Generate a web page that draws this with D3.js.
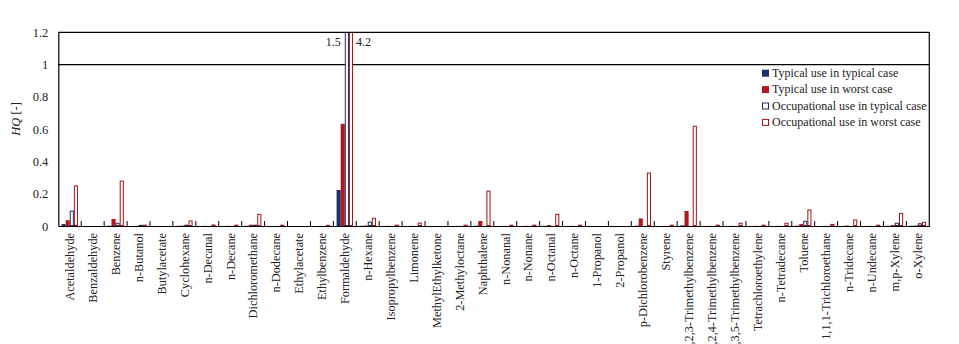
<!DOCTYPE html>
<html>
<head>
<meta charset="utf-8">
<script src="https://cdn.jsdelivr.net/npm/d3@7"></script>
<style>
  html, body { margin: 0; padding: 0; background: #fff; }
  svg { display: block; font-family: "Liberation Serif", "Times New Roman", serif; }
</style>
</head>
<body>
<svg id="chart" width="959" height="344"></svg>
<script>
const categories = ["Acetaldehyde","Benzaldehyde","Benzene","n-Butanol","Butylacetate","Cyclohexane","n-Decanal","n-Decane","Dichloromethane","n-Dodecane","Ethylacetate","Ethylbenzene","Formaldehyde","n-Hexane","Isopropylbenzene","Limonene","MethylEthylketone","2-Methyloctane","Naphthalene","n-Nonanal","n-Nonane","n-Octanal","n-Octane","1-Propanol","2-Propanol","p-Dichlorobenzene","Styrene","1,2,3-Trimethylbenzene","1,2,4-Trimethylbenzene","1,3,5-Trimethylbenzene","Tetrachloroethylene","n-Tetradecane","Toluene","1,1,1-Trichloroethane","n-Tridecane","n-Undecane","m,p-Xylene","o-Xylene"];

const seriesNames = ["Typical use in typical case","Typical use in worst case","Occupational use in typical case","Occupational use in worst case"];

const typicalTypical = [0.012,0,0.002,0,0,0.001,0,0,0.001,0,0,0,0.223,0.001,0,0,0,0,0.002,0,0,0.001,0,0,0,0.002,0,0.004,0,0,0,0,0.002,0,0,0,0.001,0.002];
const typicalWorst = [0.036,0,0.043,0.001,0,0.003,0.001,0.001,0.008,0,0,0.001,0.633,0.003,0.001,0.001,0,0.001,0.031,0.001,0.001,0.006,0.001,0,0,0.047,0.001,0.093,0.001,0.001,0.001,0.001,0.012,0.001,0.003,0.001,0.006,0.003];
const occTypical = [0.092,0,0.017,0.004,0,0.005,0.002,0.002,0.005,0.002,0,0.003,1.5,0.024,0.002,0.002,0,0.002,0.002,0.003,0.002,0.003,0.002,0,0,0.003,0.002,0.003,0.002,0.002,0.002,0.002,0.029,0.002,0.003,0.002,0.017,0.014];
const occWorst = [0.248,0,0.278,0.005,0,0.031,0.006,0.005,0.072,0.005,0,0.004,4.2,0.048,0.005,0.018,0,0.005,0.216,0.005,0.005,0.072,0.005,0,0,0.328,0.005,0.618,0.005,0.017,0.005,0.017,0.099,0.01,0.037,0.005,0.078,0.023];

const yTicks = [0, 0.2, 0.4, 0.6, 0.8, 1, 1.2];
const refLine = 1;

const seriesValues = [typicalTypical, typicalWorst, occTypical, occWorst];
const seriesStyle = [
  {fill: "#1b2f66", stroke: "none"},
  {fill: "#b4161b", stroke: "none"},
  {fill: "#ffffff", stroke: "#1b2f66"},
  {fill: "#ffffff", stroke: "#a31515"}
];

const svg = d3.select("#chart");
const pLeft = 58.3, pRight = 929.3, pTop = 32.3, pBottom = 226;

const x0 = d3.scaleBand().domain(categories).range([pLeft, pRight]).paddingInner(0).paddingOuter(0);
const x1 = d3.scaleBand().domain(seriesNames).range([0, x0.bandwidth()]).paddingInner(0).paddingOuter(0.79);
const y = d3.scaleLinear().domain([0, 1.2]).range([pBottom, pTop]);

svg.append("defs").append("clipPath").attr("id", "plotClip")
  .append("rect").attr("x", pLeft).attr("y", pTop).attr("width", pRight - pLeft).attr("height", pBottom - pTop);

// reference line at 1
svg.append("line").attr("x1", pLeft).attr("x2", pRight)
  .attr("y1", y(refLine)).attr("y2", y(refLine))
  .attr("stroke", "#000").attr("stroke-width", 1.2);

// bars
const barsG = svg.append("g").attr("clip-path", "url(#plotClip)");
seriesNames.forEach((s, si) => {
  const st = seriesStyle[si];
  const isOutline = st.stroke !== "none";
  barsG.append("g").selectAll("rect")
    .data(categories.map((c, i) => ({c, v: seriesValues[si][i]})).filter(d => d.v > 0))
    .join("rect")
    .attr("x", d => x0(d.c) + x1(s) + (isOutline ? 0.5 : 0))
    .attr("width", x1.bandwidth() - (isOutline ? 1 : 0))
    .attr("y", d => y(d.v))
    .attr("height", d => Math.max(0, pBottom - y(d.v) - (isOutline ? 0.5 : 0)))
    .attr("fill", st.fill)
    .attr("stroke", isOutline ? st.stroke : null)
    .attr("stroke-width", isOutline ? 1 : null);
});

// value labels for clipped Formaldehyde bars
const fIdx = categories.indexOf("Formaldehyde");
svg.append("text")
  .attr("x", x0("Formaldehyde") + x1(seriesNames[2]) - 4)
  .attr("y", 46).attr("text-anchor", "end")
  .attr("font-size", 12).attr("fill", "#222")
  .text(String(occTypical[fIdx]));
svg.append("text")
  .attr("x", x0("Formaldehyde") + x1(seriesNames[3]) + x1.bandwidth() + 3)
  .attr("y", 46).attr("text-anchor", "start")
  .attr("font-size", 12).attr("fill", "#222")
  .text(String(occWorst[fIdx]));

// plot frame: top, right
svg.append("line").attr("x1", pLeft).attr("x2", pRight).attr("y1", pTop).attr("y2", pTop).attr("stroke", "#000").attr("stroke-width", 1.2);
svg.append("line").attr("x1", pRight).attr("x2", pRight).attr("y1", pTop).attr("y2", pBottom).attr("stroke", "#000").attr("stroke-width", 1.2);

// y axis
const yAxis = svg.append("g").attr("transform", `translate(${pLeft},0)`)
  .call(d3.axisLeft(y).tickValues(yTicks).tickSize(0).tickPadding(10).tickFormat(d3.format("~g")));
yAxis.select(".domain").attr("stroke", "#000").attr("stroke-width", 1.2);
yAxis.selectAll("text").attr("font-size", 12.5).attr("fill", "#222").attr("font-family", "Liberation Serif, Times New Roman, serif");

// x axis
const xAxis = svg.append("g").attr("transform", `translate(0,${pBottom})`)
  .call(d3.axisBottom(x0).tickSize(0).tickPadding(0));
xAxis.select(".domain").attr("stroke", "#000").attr("stroke-width", 1.2);
xAxis.selectAll(".tick text")
  .attr("font-size", 12.3).attr("fill", "#222")
  .attr("font-family", "Liberation Serif, Times New Roman, serif")
  .attr("text-anchor", "end")
  .attr("transform", "translate(0,7) rotate(-90)")
  .attr("x", 0).attr("y", 0).attr("dy", "0.35em");

// boundary tick marks (inside, pointing up)
const boundaries = categories.slice(1).map(c => x0(c));
svg.append("g").selectAll("line").data(boundaries).join("line")
  .attr("x1", d => d).attr("x2", d => d)
  .attr("y1", pBottom).attr("y2", pBottom - 5)
  .attr("stroke", "#000").attr("stroke-width", 1);

// y axis title
const yt = svg.append("text")
  .attr("transform", `translate(20,119) rotate(-90)`)
  .attr("text-anchor", "middle").attr("font-size", 12.5).attr("fill", "#222");
yt.append("tspan").attr("font-style", "italic").text("HQ");
yt.append("tspan").text(" [-]");

// legend
const legend = svg.append("g").attr("transform", "translate(762,72.7)");
seriesNames.forEach((s, i) => {
  const g = legend.append("g").attr("transform", `translate(0,${i * 16.4})`);
  const st = seriesStyle[i];
  const isOutline = st.stroke !== "none";
  g.append("rect")
    .attr("x", isOutline ? 0.5 : 0).attr("y", isOutline ? -2.5 : -3)
    .attr("width", isOutline ? 6 : 7).attr("height", isOutline ? 6 : 7)
    .attr("fill", st.fill)
    .attr("stroke", isOutline ? st.stroke : null).attr("stroke-width", isOutline ? 1 : null);
  g.append("text").attr("x", 10).attr("y", 0).attr("dy", "0.35em")
    .attr("font-size", 12).attr("fill", "#222").text(s);
});
</script>
</body>
</html>
